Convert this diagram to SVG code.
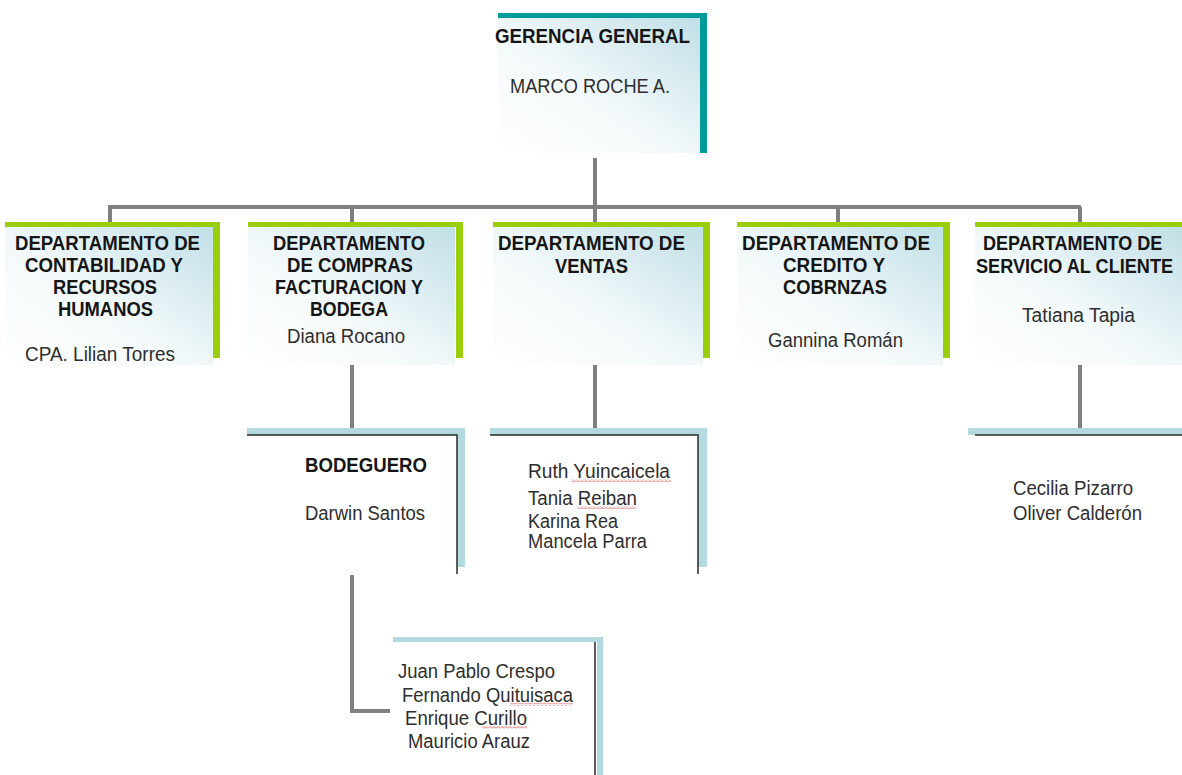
<svg xmlns="http://www.w3.org/2000/svg" width="1182" height="775" viewBox="0 0 1182 775">
<defs>
<linearGradient id="bg" x1="0" y1="1" x2="1" y2="0">
<stop offset="0" stop-color="#ffffff"/>
<stop offset="0.45" stop-color="#f3f9fa"/>
<stop offset="1" stop-color="#c0dfe7"/>
</linearGradient>
<pattern id="squig" width="4" height="3" patternUnits="userSpaceOnUse">
<path d="M0,2.5 L2,0.5 L4,2.5" fill="none" stroke="#e03a3a" stroke-width="0.8"/>
</pattern>
</defs>
<style>
.b{font-family:"Liberation Sans",Arial,sans-serif;font-weight:bold;font-size:20.5px;fill:#151515}
.r{font-family:"Liberation Sans",Arial,sans-serif;font-size:20px;fill:#2e2e2e}
.teal{fill:#009b98}
.green{fill:#9acd0a}
.lb{fill:#b3dadf}
.dk{stroke:#2a2a2a;stroke-width:1.5;fill:none}
.con{stroke:#808080;fill:none;stroke-width:4}
</style>
<rect width="1182" height="775" fill="#ffffff"/>
<g id="connectors">
<path class="con" d="M595,158 V207"/>
<path class="con" stroke-width="5" d="M108,207 H1081"/>
<path class="con" stroke-width="3.5" d="M110,207 V222 M352,207 V222 M595,207 V222 M838,207 V222 M1080,207 V222"/>
<path class="con" stroke-width="3.5" d="M352,365 V428 M595,365 V428 M1080,365 V428"/>
<path class="con" stroke-width="3.5" d="M352,575 V711 H390"/>
</g>
<g id="gerencia">
<rect x="498" y="18" width="202" height="135" fill="url(#bg)"/>
<rect class="teal" x="498" y="13" width="209" height="5"/>
<rect class="teal" x="700" y="13" width="7" height="140"/>
<text class="b" x="495" y="43" textLength="195" lengthAdjust="spacingAndGlyphs">GERENCIA GENERAL</text>
<text class="r" x="510" y="93" textLength="160" lengthAdjust="spacingAndGlyphs">MARCO ROCHE A.</text>
</g>
<g id="contabilidad">
<rect x="5" y="227" width="208" height="138" fill="url(#bg)"/>
<rect class="green" x="5" y="222" width="215" height="5"/>
<rect class="green" x="213" y="222" width="7" height="136"/>
<text class="b" x="15" y="250" textLength="185" lengthAdjust="spacingAndGlyphs">DEPARTAMENTO DE</text>
<text class="b" x="25" y="272" textLength="158" lengthAdjust="spacingAndGlyphs">CONTABILIDAD Y</text>
<text class="b" x="53" y="294" textLength="104" lengthAdjust="spacingAndGlyphs">RECURSOS</text>
<text class="b" x="58" y="316" textLength="95" lengthAdjust="spacingAndGlyphs">HUMANOS</text>
<text class="r" x="25" y="361" textLength="150" lengthAdjust="spacingAndGlyphs">CPA. Lilian Torres</text>
</g>
<g id="compras">
<rect x="248" y="227" width="207" height="138" fill="url(#bg)"/>
<rect class="green" x="248" y="222" width="215" height="5"/>
<rect class="green" x="456" y="222" width="7" height="136"/>
<text class="b" x="273" y="250" textLength="152" lengthAdjust="spacingAndGlyphs">DEPARTAMENTO</text>
<text class="b" x="287" y="272" textLength="126" lengthAdjust="spacingAndGlyphs">DE COMPRAS</text>
<text class="b" x="275" y="294" textLength="148" lengthAdjust="spacingAndGlyphs">FACTURACION Y</text>
<text class="b" x="310" y="316" textLength="78" lengthAdjust="spacingAndGlyphs">BODEGA</text>
<text class="r" x="287" y="343" textLength="118" lengthAdjust="spacingAndGlyphs">Diana Rocano</text>
</g>
<g id="ventas">
<rect x="493" y="227" width="210" height="138" fill="url(#bg)"/>
<rect class="green" x="493" y="222" width="217" height="5"/>
<rect class="green" x="703" y="222" width="7" height="136"/>
<text class="b" x="498" y="250" textLength="187" lengthAdjust="spacingAndGlyphs">DEPARTAMENTO DE</text>
<text class="b" x="555" y="273" textLength="73" lengthAdjust="spacingAndGlyphs">VENTAS</text>
</g>
<g id="credito">
<rect x="737" y="227" width="206" height="138" fill="url(#bg)"/>
<rect class="green" x="737" y="222" width="213" height="5"/>
<rect class="green" x="943" y="222" width="7" height="136"/>
<text class="b" x="742" y="250" textLength="188" lengthAdjust="spacingAndGlyphs">DEPARTAMENTO DE</text>
<text class="b" x="783" y="272" textLength="102" lengthAdjust="spacingAndGlyphs">CREDITO Y</text>
<text class="b" x="783" y="294" textLength="104" lengthAdjust="spacingAndGlyphs">COBRNZAS</text>
<text class="r" x="768" y="347" textLength="135" lengthAdjust="spacingAndGlyphs">Gannina Román</text>
</g>
<g id="servicio">
<rect x="975" y="227" width="207" height="138" fill="url(#bg)"/>
<rect class="green" x="975" y="222" width="207" height="5"/>
<text class="b" transform="translate(983,250) scale(0.88,1)" x="0" y="0">DEPARTAMENTO DE</text>
<text class="b" transform="translate(976,273) scale(0.885,1)" x="0" y="0">SERVICIO AL CLIENTE</text>
<text class="r" x="1022" y="322" textLength="113" lengthAdjust="spacingAndGlyphs">Tatiana Tapia</text>
</g>
<g id="bodeguero">
<rect class="lb" x="247" y="428" width="218" height="7"/>
<rect class="lb" x="457" y="428" width="8" height="139"/>
<path class="dk" d="M247,435 H457 V574"/>
<text class="b" x="305" y="472" textLength="122" lengthAdjust="spacingAndGlyphs">BODEGUERO</text>
<text class="r" x="305" y="520" textLength="120" lengthAdjust="spacingAndGlyphs">Darwin Santos</text>
</g>
<g id="vendedores">
<rect class="lb" x="490" y="428" width="217" height="7"/>
<rect class="lb" x="698" y="428" width="9" height="139"/>
<path class="dk" d="M490,435 H698 V574"/>
<text class="r" x="528" y="478" textLength="142" lengthAdjust="spacingAndGlyphs">Ruth Yuincaicela</text>
<text class="r" x="528" y="505" textLength="109" lengthAdjust="spacingAndGlyphs">Tania Reiban</text>
<text class="r" x="528" y="528" textLength="90" lengthAdjust="spacingAndGlyphs">Karina Rea</text>
<text class="r" x="528" y="548" textLength="119" lengthAdjust="spacingAndGlyphs">Mancela Parra</text>
<rect x="571" y="479" width="100" height="3" fill="url(#squig)"/>
<rect x="578" y="506" width="58" height="3" fill="url(#squig)"/>
</g>
<g id="atencion">
<rect class="lb" x="968" y="428" width="214" height="7"/>
<path class="dk" d="M975,435 H1182"/>
<text class="r" x="1013" y="495" textLength="120" lengthAdjust="spacingAndGlyphs">Cecilia Pizarro</text>
<text class="r" x="1013" y="520" textLength="129" lengthAdjust="spacingAndGlyphs">Oliver Calderón</text>
</g>
<g id="auxiliares">
<rect class="lb" x="393" y="637" width="210" height="5"/>
<rect class="lb" x="597" y="637" width="6" height="138"/>
<path class="dk" stroke-width="2" d="M595,642 V775"/>
<text class="r" x="398" y="678" textLength="157" lengthAdjust="spacingAndGlyphs">Juan Pablo Crespo</text>
<text class="r" x="402" y="702" textLength="171" lengthAdjust="spacingAndGlyphs">Fernando Quituisaca</text>
<text class="r" x="405" y="725" textLength="122" lengthAdjust="spacingAndGlyphs">Enrique Curillo</text>
<text class="r" x="408" y="748" textLength="122" lengthAdjust="spacingAndGlyphs">Mauricio Arauz</text>
<rect x="510" y="703" width="63" height="3" fill="url(#squig)"/>
<rect x="482" y="726" width="45" height="3" fill="url(#squig)"/>
</g>
</svg>
